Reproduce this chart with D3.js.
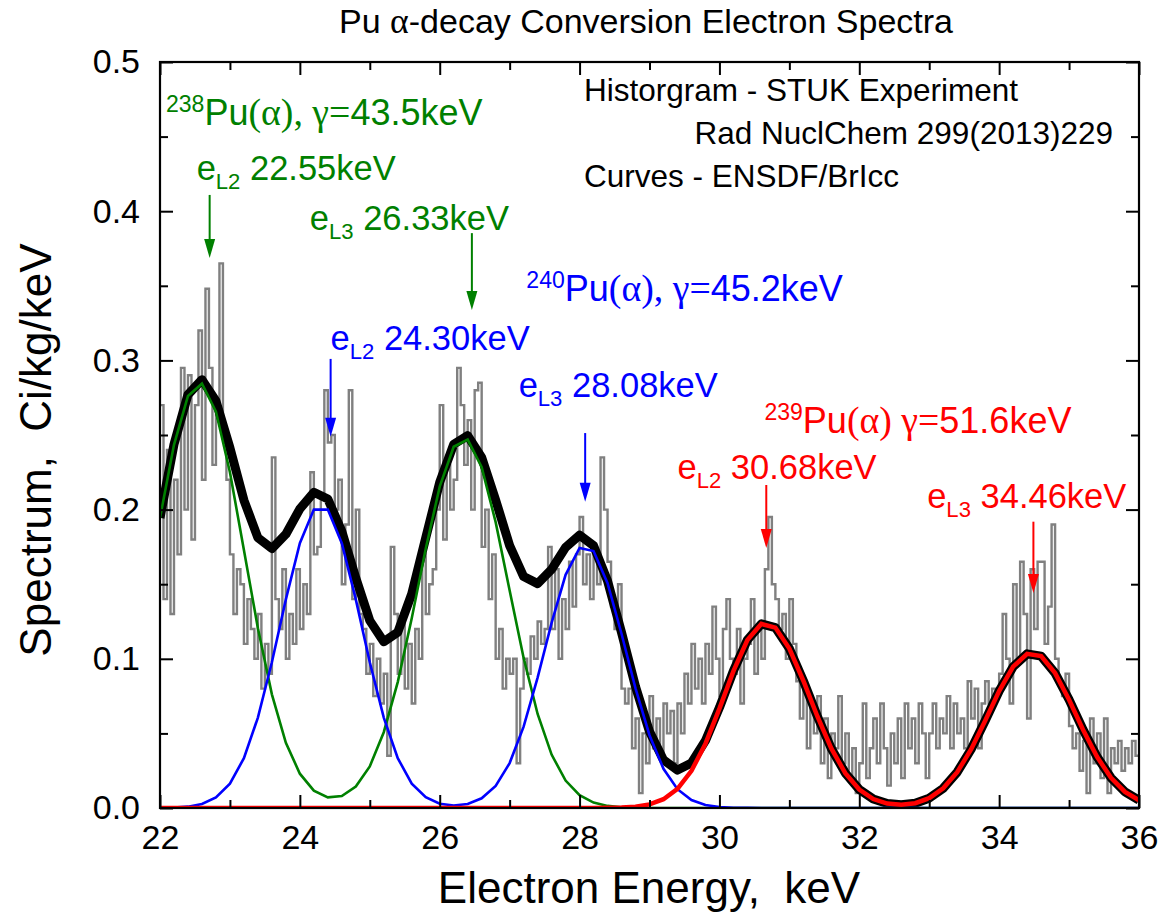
<!DOCTYPE html>
<html>
<head>
<meta charset="utf-8">
<script src="https://cdn.jsdelivr.net/npm/d3@7"></script>
<style>
body { margin: 0; background: #fff; }
text { font-family: "Liberation Sans", Arial, sans-serif; }
tspan.greek { font-family: "Liberation Serif", "DejaVu Serif", serif; }
</style>
</head>
<body>
<script>
// energy grid of the ENSDF/BrIcc curves, keV
const curveEnergy = [22.0, 22.2, 22.4, 22.6, 22.8, 23.0, 23.2, 23.4, 23.6, 23.8,
    24.0, 24.2, 24.4, 24.6, 24.8, 25.0, 25.2, 25.4, 25.6, 25.8,
    26.0, 26.2, 26.4, 26.6, 26.8, 27.0, 27.2, 27.4, 27.6, 27.8,
    28.0, 28.2, 28.4, 28.6, 28.8, 29.0, 29.2, 29.4, 29.6, 29.8,
    30.0, 30.2, 30.4, 30.6, 30.8, 31.0, 31.2, 31.4, 31.6, 31.8,
    32.0, 32.2, 32.4, 32.6, 32.8, 33.0, 33.2, 33.4, 33.6, 33.8,
    34.0, 34.2, 34.4, 34.6, 34.8, 35.0, 35.2, 35.4, 35.6, 35.8, 36.0];

// 238Pu lines (green)
const pu238 = [0.1944, 0.2434, 0.2762, 0.2844, 0.2657, 0.2251, 0.1729, 0.1205, 0.0762, 0.0437,
    0.0230, 0.0116, 0.0071, 0.0080, 0.0144, 0.0279, 0.0508, 0.0844, 0.1272, 0.1738,
    0.2154, 0.2421, 0.2469, 0.2284, 0.1916, 0.1458, 0.1006, 0.0630, 0.0358, 0.0184,
    0.0086, 0.0036, 0.0014, 0.0005, 0.0002, 0, 0, 0, 0, 0,
    0, 0, 0, 0, 0, 0, 0, 0, 0, 0,
    0, 0, 0, 0, 0, 0, 0, 0, 0, 0,
    0, 0, 0, 0, 0, 0, 0, 0, 0, 0, 0];

// 240Pu lines (blue)
const pu240 = [0.0001, 0.0003, 0.0009, 0.0027, 0.0071, 0.0163, 0.0334, 0.0606, 0.0977, 0.1398,
    0.1775, 0.2000, 0.2000, 0.1775, 0.1398, 0.0977, 0.0606, 0.0334, 0.0163, 0.0072,
    0.0029, 0.0017, 0.0027, 0.0065, 0.0148, 0.0301, 0.0545, 0.0874, 0.1241, 0.1563,
    0.1743, 0.1722, 0.1507, 0.1168, 0.0802, 0.0488, 0.0263, 0.0126, 0.0053, 0.0020,
    0.0007, 0.0002, 0.0001, 0, 0, 0, 0, 0, 0, 0,
    0, 0, 0, 0, 0, 0, 0, 0, 0, 0,
    0, 0, 0, 0, 0, 0, 0, 0, 0, 0, 0];

// 239Pu lines (red)
const pu239 = [0, 0, 0, 0, 0, 0, 0, 0, 0, 0,
    0, 0, 0, 0, 0, 0, 0, 0, 0, 0,
    0, 0, 0, 0, 0, 0, 0, 0, 0, 0,
    0, 0, 0.0001, 0.0003, 0.0009, 0.0024, 0.0059, 0.0128, 0.0249, 0.0431,
    0.0666, 0.0917, 0.1126, 0.1234, 0.1209, 0.1069, 0.0853, 0.0615, 0.0399, 0.0234,
    0.0124, 0.0060, 0.0030, 0.0022, 0.0032, 0.0066, 0.0132, 0.0240, 0.0394, 0.0585,
    0.0784, 0.0947, 0.1033, 0.1018, 0.0904, 0.0726, 0.0525, 0.0343, 0.0202, 0.0108, 0.0052];

// STUK histogram, 0.05 keV bins starting at 22.00 keV
const histStart = 22.0;
const histBin = 0.05;
const histCounts = [
    0.27, 0.14, 0.24, 0.13, 0.22, 0.17, 0.295, 0.2, 0.29, 0.18, 0.27, 0.32, 0.22, 0.348, 0.295, 0.23, 0.27, 0.365, 0.25, 0.22,
    0.17, 0.13, 0.16, 0.15, 0.11, 0.14, 0.12, 0.1, 0.13, 0.08, 0.11, 0.09, 0.235, 0.14, 0.12, 0.16, 0.1, 0.13, 0.11, 0.16,
    0.12, 0.15, 0.13, 0.225, 0.17, 0.175, 0.21, 0.28, 0.245, 0.25, 0.2, 0.22, 0.15, 0.19, 0.28, 0.14, 0.2, 0.13, 0.12, 0.09,
    0.11, 0.075, 0.1, 0.07, 0.09, 0.035, 0.175, 0.13, 0.09, 0.125, 0.08, 0.11, 0.07, 0.12, 0.1, 0.17, 0.13, 0.15, 0.16, 0.2,
    0.27, 0.18, 0.23, 0.2, 0.22, 0.295, 0.27, 0.23, 0.26, 0.2, 0.28, 0.285, 0.175, 0.2, 0.14, 0.17, 0.1, 0.12, 0.08, 0.1,
    0.09, 0.1, 0.03, 0.08, 0.1, 0.09, 0.115, 0.1, 0.125, 0.11, 0.12, 0.175, 0.12, 0.16, 0.1, 0.14, 0.12, 0.165, 0.135, 0.17,
    0.195, 0.15, 0.17, 0.14, 0.17, 0.15, 0.235, 0.2, 0.165, 0.135, 0.12, 0.15, 0.08, 0.07, 0.08, 0.04, 0.06, 0.01, 0.05, 0.03,
    0.075, 0.04, 0.06, 0.035, 0.07, 0.05, 0.065, 0.03, 0.07, 0.05, 0.09, 0.07, 0.11, 0.08, 0.1, 0.07, 0.11, 0.09, 0.135, 0.1,
    0.075, 0.12, 0.14, 0.1, 0.09, 0.12, 0.07, 0.1, 0.11, 0.14, 0.09, 0.12, 0.1, 0.16, 0.195, 0.15, 0.14, 0.12, 0.13, 0.1,
    0.14, 0.11, 0.085, 0.06, 0.08, 0.04, 0.07, 0.05, 0.075, 0.03, 0.06, 0.02, 0.05, 0.04, 0.075, 0.03, 0.05, 0.02, 0.04, 0.01,
    0.03, 0.07, 0.02, 0.04, 0.06, 0.03, 0.07, 0.04, 0.015, 0.05, 0.03, 0.06, 0.02, 0.07, 0.04, 0.06, 0.03, 0.07, 0.05, 0.02,
    0.05, 0.07, 0.04, 0.06, 0.05, 0.075, 0.04, 0.07, 0.05, 0.06, 0.04, 0.085, 0.06, 0.08, 0.04, 0.07, 0.085, 0.07, 0.08, 0.075,
    0.09, 0.13, 0.1, 0.07, 0.15, 0.1, 0.165, 0.13, 0.06, 0.16, 0.12, 0.165, 0.165, 0.11, 0.135, 0.19, 0.1, 0.085, 0.075, 0.09,
    0.055, 0.04, 0.05, 0.025, 0.045, 0.01, 0.06, 0.03, 0.05, 0.02, 0.06, 0.01, 0.04, 0.03, 0.045, 0.025, 0.04, 0.03, 0.045, 0.035
];

const xTicks = [22, 24, 26, 28, 30, 32, 34, 36];
const xMinorTicks = [23, 25, 27, 29, 31, 33, 35];
const yTicks = [0.0, 0.1, 0.2, 0.3, 0.4, 0.5];
const yMinorTicks = [0.05, 0.15, 0.25, 0.35, 0.45];

// line energies marked with arrows
const arrowEnergy = [22.71, 26.46, 24.44, 28.08, 30.67, 34.49];
const arrowColor = ["green", "green", "blue", "blue", "red", "red"];

const isotopeText = [
    [["sup", "238"], ["n", "Pu"], ["g", "(α), γ="], ["n", "43.5keV"]],
    [["sup", "240"], ["n", "Pu"], ["g", "(α), γ="], ["n", "45.2keV"]],
    [["sup", "239"], ["n", "Pu"], ["g", "(α) γ="], ["n", "51.6keV"]]
];
const lineText = [
    [["n", "e"], ["sub", "L2"], ["n", " 22.55keV"]],
    [["n", "e"], ["sub", "L3"], ["n", " 26.33keV"]],
    [["n", "e"], ["sub", "L2"], ["n", " 24.30keV"]],
    [["n", "e"], ["sub", "L3"], ["n", " 28.08keV"]],
    [["n", "e"], ["sub", "L2"], ["n", " 30.68keV"]],
    [["n", "e"], ["sub", "L3"], ["n", " 34.46keV"]]
];
const noteText = ["Historgram - STUK Experiment", "Rad NuclChem 299(2013)229", "Curves - ENSDF/BrIcc"];

const margin = {top: 62, right: 29, bottom: 107, left: 160},
    width = 1168 - margin.left - margin.right,
    height = 915 - margin.top - margin.bottom;

const svg = d3.select("body")
  .append("svg")
    .attr("width", 1168)
    .attr("height", 915);

const g = svg.append("g")
    .attr("transform", "translate(" + margin.left + "," + margin.top + ")");

const x = d3.scaleLinear().domain([22, 36]).range([0, width]);
const y = d3.scaleLinear().domain([0, 0.5]).range([height, 0]);

svg.append("defs").append("clipPath").attr("id", "plotClip")
  .append("rect").attr("width", width).attr("height", height);

const plot = g.append("g").attr("clip-path", "url(#plotClip)");

// histogram as a step line
const histPoints = histCounts.map((v, i) => [histStart + i * histBin, v]);
histPoints.push([histStart + histCounts.length * histBin, histCounts[histCounts.length - 1]]);

plot.append("path")
    .datum(histPoints)
    .attr("fill", "none")
    .attr("stroke", "#808080")
    .attr("stroke-width", 2.4)
    .attr("d", d3.line().x(d => x(d[0])).y(d => y(d[1])).curve(d3.curveStepAfter));

const curve = d3.line().x(d => x(d[0])).y(d => y(d[1]));
const zipE = arr => arr.map((v, i) => [curveEnergy[i], v]);
const total = curveEnergy.map((e, i) => [e, pu238[i] + pu240[i] + pu239[i]]);

plot.append("path").datum(total)
    .attr("fill", "none").attr("stroke", "#000").attr("stroke-width", 9)
    .attr("stroke-linejoin", "round").attr("d", curve);

plot.append("path").datum(zipE(pu238))
    .attr("fill", "none").attr("stroke", "#008000").attr("stroke-width", 2.6).attr("d", curve);
plot.append("path").datum(zipE(pu240))
    .attr("fill", "none").attr("stroke", "#0000ff").attr("stroke-width", 2.6).attr("d", curve);
plot.append("path").datum(zipE(pu239))
    .attr("fill", "none").attr("stroke", "#ff0000").attr("stroke-width", 4.5).attr("d", curve);

// axes, ticks pointing inward on all four sides
function styleAxis(sel) {
    sel.select(".domain").remove();
    sel.selectAll(".tick line").attr("stroke", "#000").attr("stroke-width", 2);
    sel.selectAll(".tick text").attr("fill", "#000").style("font-size", "34px");
}

g.append("g").attr("transform", "translate(0," + height + ")")
    .call(d3.axisBottom(x).tickValues(xTicks).tickSizeInner(-13).tickSizeOuter(0).tickPadding(17).tickFormat(d3.format("d")))
    .call(styleAxis);
g.append("g").attr("transform", "translate(0," + height + ")")
    .call(d3.axisBottom(x).tickValues(xMinorTicks).tickSize(-8).tickFormat(""))
    .call(styleAxis);
g.append("g")
    .call(d3.axisTop(x).tickValues(xTicks).tickSize(-13).tickFormat(""))
    .call(styleAxis);
g.append("g")
    .call(d3.axisTop(x).tickValues(xMinorTicks).tickSize(-8).tickFormat(""))
    .call(styleAxis);

g.append("g")
    .call(d3.axisLeft(y).tickValues(yTicks).tickSizeInner(-13).tickSizeOuter(0).tickPadding(20).tickFormat(d3.format(".1f")))
    .call(styleAxis);
g.append("g")
    .call(d3.axisLeft(y).tickValues(yMinorTicks).tickSize(-8).tickFormat(""))
    .call(styleAxis);
g.append("g").attr("transform", "translate(" + width + ",0)")
    .call(d3.axisRight(y).tickValues(yTicks).tickSize(-13).tickFormat(""))
    .call(styleAxis);
g.append("g").attr("transform", "translate(" + width + ",0)")
    .call(d3.axisRight(y).tickValues(yMinorTicks).tickSize(-8).tickFormat(""))
    .call(styleAxis);

g.append("rect")
    .attr("width", width).attr("height", height)
    .attr("fill", "none").attr("stroke", "#000").attr("stroke-width", 2.2);

// rich text with sub/superscripts and serif greek letters
function richText(parent, parts, px, py, size, color) {
    const t = parent.append("text").attr("x", px).attr("y", py)
        .attr("fill", color).style("font-size", size + "px").style("white-space", "pre");
    let shift = 0;
    parts.forEach(p => {
        let target = 0, fs = size;
        if (p[0] == "sup") { target = -size * 0.36; fs = size * 0.64; }
        else if (p[0] == "sub") { target = size * 0.26; fs = size * 0.64; }
        else if (p[0] == "g") { fs = size * 1.05; }
        t.append("tspan").attr("dy", target - shift)
            .attr("class", p[0] == "g" ? "greek" : null)
            .style("font-size", fs + "px").text(p[1]);
        shift = target;
    });
    return t;
}

const isoPos = [[22.086, 0.4578], [27.239, 0.34], [30.643, 0.2513]];
const isoColor = ["green", "blue", "red"];
isotopeText.forEach((parts, i) => {
    richText(g, parts, x(isoPos[i][0]), y(isoPos[i][1]), 36, isoColor[i]);
});

const linePos = [[22.524, 0.4209], [24.143, 0.3874], [24.439, 0.307], [27.129, 0.2757], [29.4, 0.2205], [32.971, 0.2011]];
lineText.forEach((parts, i) => {
    richText(g, parts, x(linePos[i][0]), y(linePos[i][1]), 34.5, arrowColor[i]);
});

// arrows: [top, tip] in data units
const arrowSpan = [[0.4109, 0.3686], [0.3853, 0.3338], [0.301, 0.2489], [0.2513, 0.2053], [0.2165, 0.1743], [0.1919, 0.1441]];
arrowEnergy.forEach((e, i) => {
    const ax = x(e), y1 = y(arrowSpan[i][0]), y2 = y(arrowSpan[i][1]);
    g.append("line").attr("x1", ax).attr("x2", ax).attr("y1", y1).attr("y2", y2 - 14)
        .attr("stroke", arrowColor[i]).attr("stroke-width", 2);
    g.append("path")
        .attr("d", "M" + (ax - 5.5) + "," + (y2 - 19) + "L" + (ax + 5.5) + "," + (y2 - 19) + "L" + ax + "," + y2 + "Z")
        .attr("fill", arrowColor[i]);
});

// notes
g.append("text").attr("x", 584 - margin.left).attr("y", 101 - margin.top)
    .style("font-size", "31.5px").text(noteText[0]);
g.append("text").attr("x", 1113 - margin.left).attr("y", 144 - margin.top)
    .attr("text-anchor", "end").style("font-size", "31.5px").text(noteText[1]);
g.append("text").attr("x", 584 - margin.left).attr("y", 187 - margin.top)
    .style("font-size", "31.5px").text(noteText[2]);

// titles
richText(svg, [["n", "Pu "], ["g", "α"], ["n", "-decay Conversion Electron Spectra"]], 0, 33, 34, "#000")
    .attr("x", 646).attr("text-anchor", "middle");

svg.append("text")
    .attr("x", 649).attr("y", 903)
    .attr("text-anchor", "middle").style("font-size", "44px").style("white-space", "pre")
    .text("Electron Energy,  keV");

svg.append("text")
    .attr("transform", "translate(51,450) rotate(-90)")
    .attr("text-anchor", "middle").style("font-size", "44px").style("white-space", "pre")
    .text("Spectrum,  Ci/kg/keV");
</script>
</body>
</html>
